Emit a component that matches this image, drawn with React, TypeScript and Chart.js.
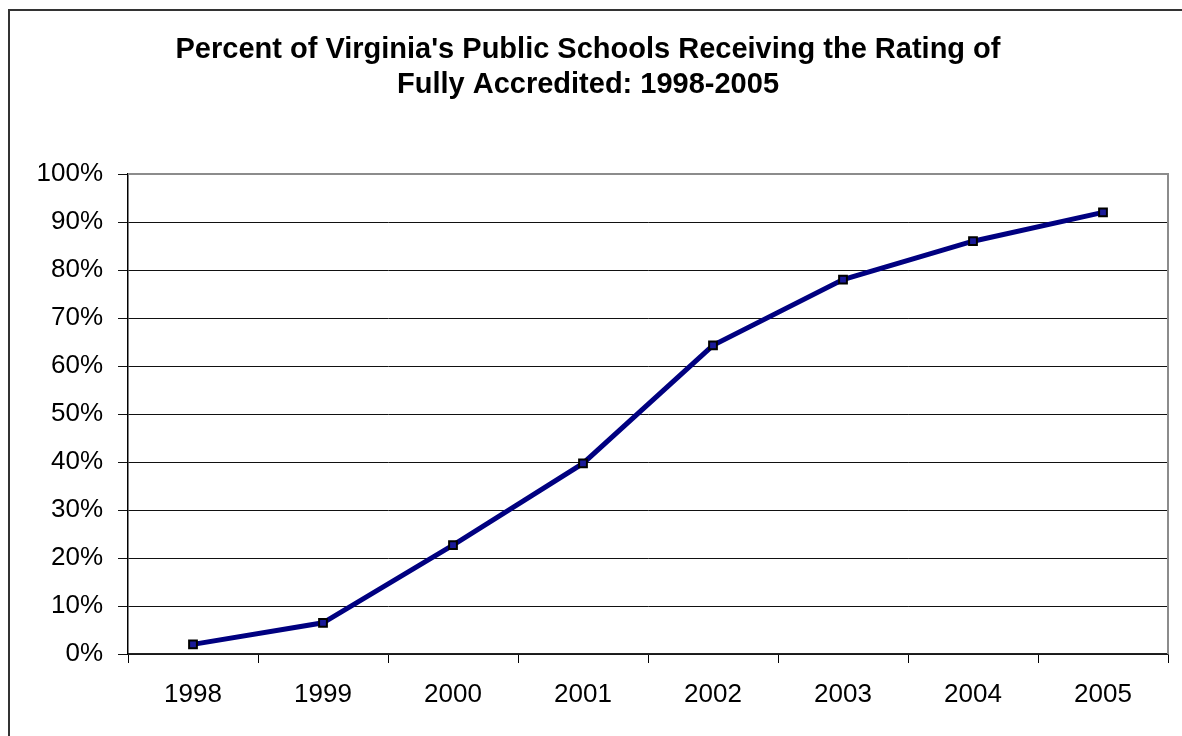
import React, { useEffect, useRef } from "react";
import { Chart, registerables } from "chart.js";

Chart.register(...registerables);

const TITLE_LINES = [
  "Percent of Virginia's Public Schools Receiving the Rating of",
  "Fully Accredited: 1998-2005",
];
const YEARS = ["1998", "1999", "2000", "2001", "2002", "2003", "2004", "2005"];
const PERCENT_ACCREDITED = [2, 6.5, 22.7, 39.7, 64.3, 78, 86, 92];
const Y_MIN = 0;
const Y_MAX = 100;
const Y_STEP = 10;

const FONT = "'Liberation Sans', Arial, sans-serif";

const plotBorder = {
  id: "plotBorder",
  afterDatasetsDraw(chart: any) {
    const { ctx, chartArea } = chart;
    ctx.save();
    ctx.strokeStyle = "#8c8c8c";
    ctx.lineWidth = 2;
    ctx.beginPath();
    ctx.moveTo(chartArea.left, chartArea.top);
    ctx.lineTo(chartArea.right, chartArea.top);
    ctx.lineTo(chartArea.right, chartArea.bottom);
    ctx.stroke();
    ctx.restore();
  },
};

export default function App() {
  const ref = useRef<HTMLCanvasElement | null>(null);

  useEffect(() => {
    document.documentElement.style.overflow = "hidden";
    document.body.style.overflow = "hidden";
    if (!ref.current) return;
    const chart = new Chart(ref.current, {
      type: "line",
      data: {
        labels: YEARS,
        datasets: [
          {
            data: PERCENT_ACCREDITED,
            borderColor: "#000080",
            borderWidth: 5,
            tension: 0,
            pointStyle: "rect",
            pointRadius: 5.5,
            pointBorderWidth: 2,
            pointBorderColor: "#000000",
            pointBackgroundColor: "#1a1a9a",
          },
        ],
      },
      options: {
        animation: false,
        responsive: false,
        maintainAspectRatio: false,
        layout: { padding: { left: 0, right: 14, top: 0, bottom: 0 } },
        plugins: {
          legend: { display: false },
          tooltip: { enabled: false },
          title: {
            display: true,
            text: TITLE_LINES,
            color: "#000",
            font: { family: FONT, size: 29, weight: "bold", lineHeight: 1.207 },
            padding: { top: 24.5, bottom: 71.5 },
          },
        },
        scales: {
          x: {
            type: "category",
            offset: true,
            afterFit: (scale: any) => {
              scale.height = 74;
            },
            grid: {
              display: true,
              offset: true,
              drawOnChartArea: false,
              drawTicks: true,
              tickLength: 9,
              color: "#000",
              lineWidth: 1,
            },
            border: { display: true, color: "#222", width: 1.5 },
            ticks: {
              color: "#000",
              padding: 16,
              maxRotation: 0,
              font: { family: FONT, size: 26 },
            },
          },
          y: {
            min: Y_MIN,
            max: Y_MAX,
            afterFit: (scale: any) => {
              scale.width = 120;
            },
            grid: {
              display: true,
              drawTicks: true,
              tickLength: 10,
              color: "#111",
              lineWidth: 1,
            },
            border: { display: true, color: "#000", width: 1.5 },
            ticks: {
              stepSize: Y_STEP,
              color: "#000",
              padding: 15,
              font: { family: FONT, size: 26 },
              callback: (v: any) => `${v}%`,
            },
          },
        },
      },
      plugins: [plotBorder],
    });
    return () => chart.destroy();
  }, []);

  return (
    <div style={{ position: "relative", width: 1174, height: 720, background: "#fff" }}>
      <canvas
        ref={ref}
        width={1174}
        height={720}
        style={{ position: "absolute", left: 0, top: 0, width: 1174, height: 720 }}
      />
      <div
        style={{
          position: "fixed",
          left: 8,
          top: 9,
          width: 3000,
          height: 2,
          background: "#333",
          pointerEvents: "none",
        }}
      />
      <div
        style={{
          position: "fixed",
          left: 8,
          top: 9,
          width: 2,
          height: 3000,
          background: "#333",
          pointerEvents: "none",
        }}
      />
    </div>
  );
}
